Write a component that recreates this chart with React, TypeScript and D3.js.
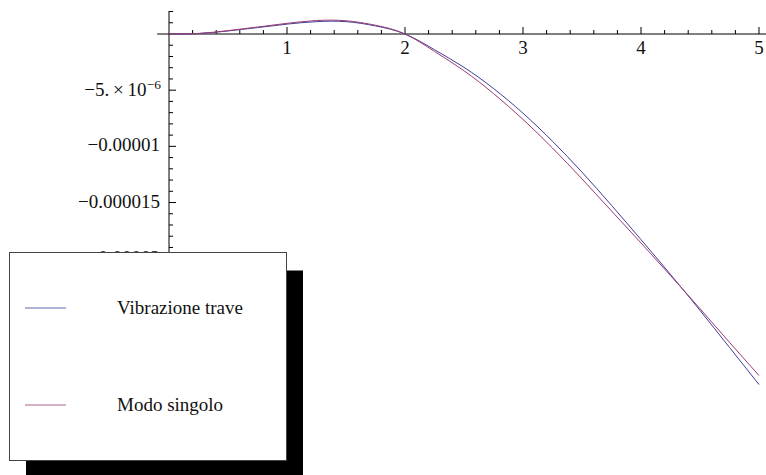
import React from 'react';
import * as d3 from 'd3';

// sampled beam deflection (units of 1e-6)
const xs = [0, 0.25, 0.5, 0.75, 1, 1.25, 1.5, 1.75, 2, 2.25, 2.5, 2.75, 3, 3.25, 3.5, 3.75, 4, 4.25, 4.5, 4.75, 5];
const vibrazioneTrave = [0, 0.04, 0.27, 0.57, 0.88, 1.1, 1.1, 0.72, 0, -1.4, -2.97, -4.85, -7.05, -9.55, -12.3, -15.25, -18.3, -21.4, -24.6, -27.9, -31.2];
const modoSingolo = [0, 0.05, 0.3, 0.62, 0.95, 1.2, 1.18, 0.78, 0, -1.55, -3.27, -5.3, -7.6, -10.15, -12.9, -15.75, -18.6, -21.5, -24.45, -27.45, -30.4];

const xMajor = [1, 2, 3, 4, 5];
const yMajor = [-5e-6, -1e-5, -1.5e-5, -2e-5];
const yLabels = ['', '\u22120.00001', '\u22120.000015', '\u22120.00002'];

const seriesNames = ['Vibrazione trave', 'Modo singolo'];
const seriesColors = ['rgb(62,61,153)', 'rgb(153,61,116)'];

const W = 766;
const H = 475;
const font = '"Liberation Serif", "Times New Roman", serif';

export default function App() {
  const x = d3.scaleLinear().domain([0, 5]).range([169, 759]);
  const y = d3.scaleLinear().domain([0, -2e-5]).range([34, 258.7]);

  const line = d3
    .line<number>()
    .x((_, i) => x(xs[i]))
    .y((d) => y(d * 1e-6))
    .curve(d3.curveNatural);

  const xMinor = d3.range(1, 26).map((i) => i * 0.2).filter((v) => Math.abs(v - Math.round(v)) > 1e-9);
  const yMinor = d3.range(-22, 3).map((i) => i * 1e-6).filter((v) => Math.abs(v / 5e-6 - Math.round(v / 5e-6)) > 1e-6);

  const x0 = x(0);
  const y0 = y(0);
  const axisColor = '#000';

  return (
    <svg width={W} height={H} style={{ position: 'absolute', left: 0, top: 0, background: '#fff' }} fontFamily={font}>
      <rect width={W} height={H} fill="#fff" />
      {/* x axis */}
      <line x1={x(-0.1)} x2={W} y1={y0} y2={y0} stroke={axisColor} strokeWidth={1} />
      {xMinor.map((v) => (
        <line key={'xm' + v} x1={x(v)} x2={x(v)} y1={y0} y2={y0 - 4} stroke={axisColor} strokeWidth={1} />
      ))}
      {xMajor.map((v) => (
        <g key={'xM' + v}>
          <line x1={x(v)} x2={x(v)} y1={y0} y2={y0 - 7} stroke={axisColor} strokeWidth={1} />
          <text x={x(v)} y={y0 + 20} fontSize={19} textAnchor="middle" fill="#111">
            {v}
          </text>
        </g>
      ))}
      {/* y axis */}
      <line x1={x0} x2={x0} y1={y(2.05e-6)} y2={H} stroke={axisColor} strokeWidth={1} />
      {yMinor.map((v) => (
        <line key={'ym' + v} x1={x0} x2={x0 + 4} y1={y(v)} y2={y(v)} stroke={axisColor} strokeWidth={1} />
      ))}
      {yMajor.map((v, i) => (
        <g key={'yM' + v}>
          <line x1={x0} x2={x0 + 7} y1={y(v)} y2={y(v)} stroke={axisColor} strokeWidth={1} />
          {i === 0 ? (
            <text x={x0 - 8} y={y(v) + 6} fontSize={19} textAnchor="end" fill="#111">
              {'\u22125.\u2009\u00d7\u200910'}
              <tspan fontSize={13.5} dy={-7.5}>
                {'\u22126'}
              </tspan>
            </text>
          ) : (
            <text x={x0 - 9} y={y(v) + 5} fontSize={19} textAnchor="end" fill="#111">
              {yLabels[i]}
            </text>
          )}
        </g>
      ))}
      {/* curves */}
      {[vibrazioneTrave, modoSingolo].map((s, i) => (
        <path key={'s' + i} d={line(s) || ''} fill="none" stroke={seriesColors[i]} strokeWidth={1} />
      ))}
      {/* legend */}
      <rect x={26} y={270.5} width={277} height={210} fill="#000" />
      <rect x={9.5} y={252.5} width={277} height={208} fill="#fff" stroke="#444" strokeWidth={1} />
      {seriesNames.map((name, i) => {
        const ly = i === 0 ? 308 : 405;
        return (
          <g key={name}>
            <line x1={25} x2={66} y1={ly} y2={ly} stroke={seriesColors[i]} strokeWidth={1} opacity={0.8} />
            <text x={117} y={ly + 6} fontSize={19} fill="#111">
              {name}
            </text>
          </g>
        );
      })}
    </svg>
  );
}
